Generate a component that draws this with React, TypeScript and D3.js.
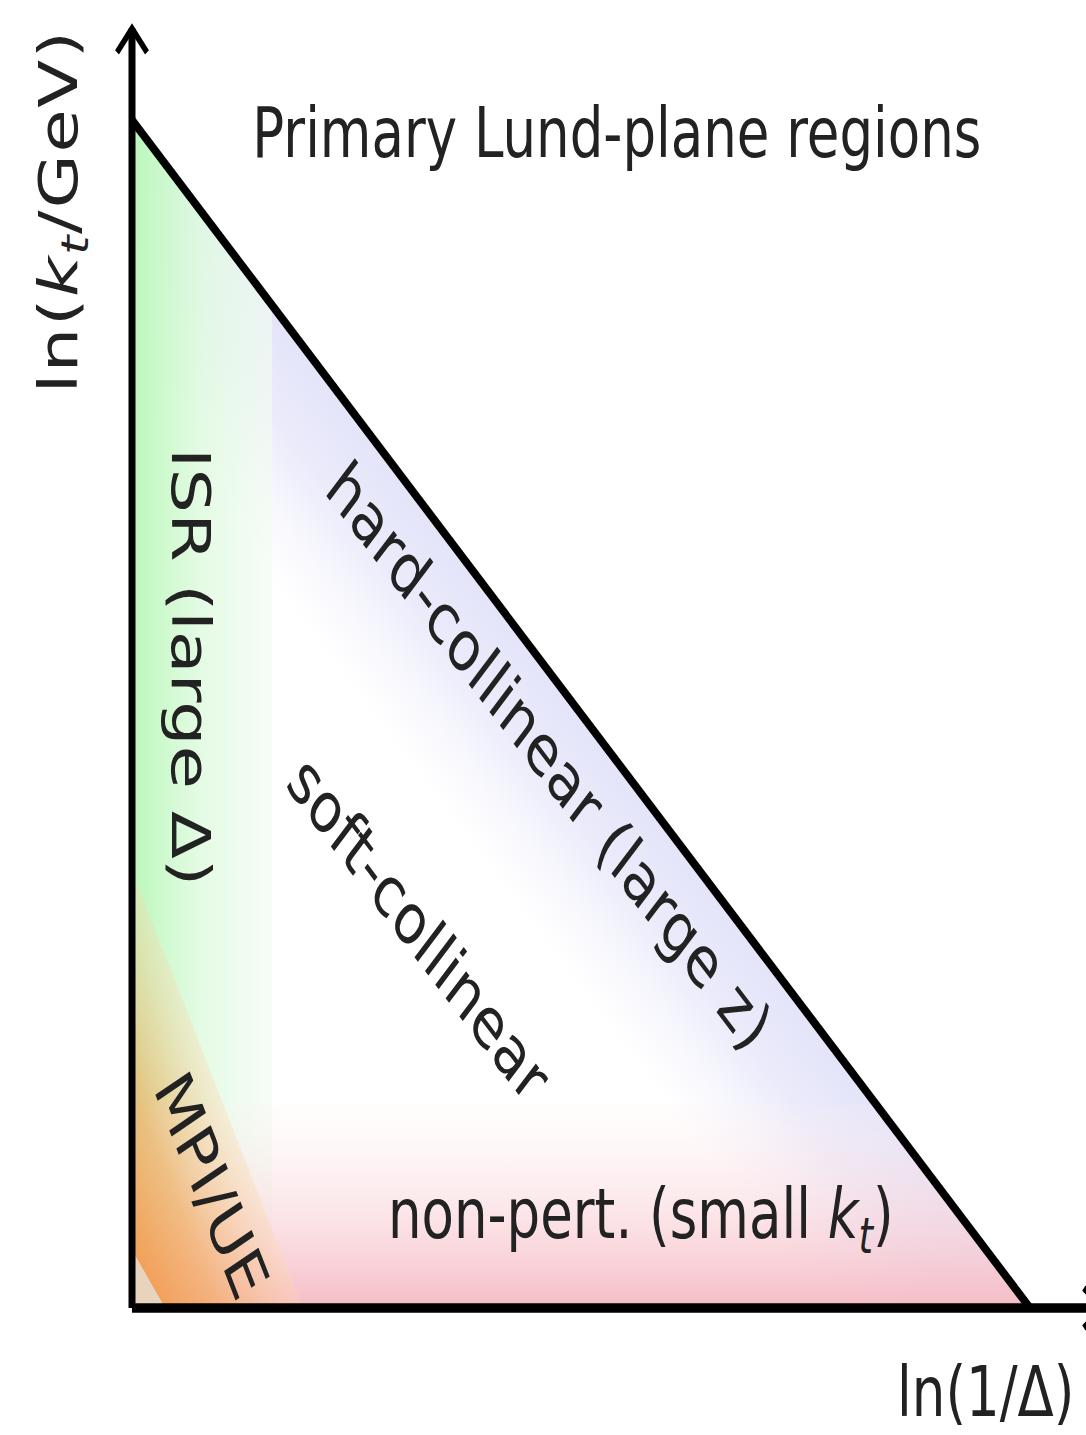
import React from 'react';
import * as d3 from 'd3';

// ---------- data (normalised Lund-plane coordinates) ----------
const lundTriangle: [number, number][] = [[0, 0], [0, 1], [1, 0]];
const isrStripX: [number, number] = [0, 0.156];
const nonPertBandY: [number, number] = [0, 0.171];
const hardCollinearWidth = 0.234;
const mpiRegion: [number, number][] = [[0, 0], [0, 0.369], [0.19, 0]];
const mpiCorner: [number, number][] = [[0, 0], [0, 0.049], [0.037, 0]];
const yAxisTip = 1.077;
const xAxisTip = 1.08;

const regionLabels = ['hard-collinear (large z)', 'soft-collinear', 'ISR (large Δ)', 'MPI/UE'];
const regionLabelX = [0.45, 0.305, 0.0445, 0.0703];
const regionLabelY = [0.45, 0.305, 0.5395, 0.0938];
const regionLabelAngle = [45, 45, 90, 62.7];

const titleText = 'Primary Lund-plane regions';

// ---------- layout ----------
const W = 1086;
const H = 1435;
const SY = 1188 / 898; // vertical stretch of the picture
const FS = 53;
const FONT = '"DejaVu Sans", Verdana, sans-serif';

export default function App() {
  const x = d3.scaleLinear().domain([0, 1]).range([132, 1030]);
  const y = d3.scaleLinear().domain([0, 1]).range([1308 / SY, 120 / SY]);
  const line = d3
    .line<[number, number]>()
    .x((d) => x(d[0]))
    .y((d) => y(d[1]));

  const triPath = line(lundTriangle) + 'Z';
  const w = hardCollinearWidth;
  const hcBand: [number, number][] = [[0, 1], [1, 0], [1 - w, 0], [0, 1 - w]];
  const isrRect: [number, number][] = [
    [isrStripX[0], 0], [isrStripX[0], 1], [isrStripX[1], 1], [isrStripX[1], 0],
  ];
  const npRect: [number, number][] = [
    [0, nonPertBandY[0]], [0, nonPertBandY[1]], [1, nonPertBandY[1]], [1, nonPertBandY[0]],
  ];

  // MPI gradient: from corner perpendicular to hypotenuse
  const hx0 = x(mpiRegion[1][0]), hy0 = y(mpiRegion[1][1]);
  const hx1 = x(mpiRegion[2][0]), hy1 = y(mpiRegion[2][1]);
  const ox = x(0), oy = y(0);
  const dx = hx1 - hx0, dy = hy1 - hy0;
  const len = Math.hypot(dx, dy);
  const ux = dx / len, uy = dy / len;
  const t = (ox - hx0) * ux + (oy - hy0) * uy;
  const fx = hx0 + t * ux, fy = hy0 + t * uy;

  const sub = Math.round(FS * 0.7);
  const subDy = 11;

  return (
    <svg
      width={W}
      height={H}
      style={{ position: 'absolute', left: 0, top: 0, background: '#fff' }}
      fontFamily={FONT}
    >
      <rect width={W} height={H} fill="#fff" />
      <g transform={`scale(1, ${SY})`}>
        <defs>
          <clipPath id="tri">
            <path d={triPath} />
          </clipPath>
          <linearGradient
            id="gBlue"
            gradientUnits="userSpaceOnUse"
            x1={x(0.5)}
            y1={y(0.5)}
            x2={x(0.5 - w / 2)}
            y2={y(0.5 - w / 2)}
          >
            <stop offset="0" stopColor="rgb(228,228,250)" stopOpacity={1} />
            <stop offset="0.4" stopColor="rgb(230,230,250)" stopOpacity={0.8} />
            <stop offset="1" stopColor="rgb(240,240,252)" stopOpacity={0} />
          </linearGradient>
          <linearGradient
            id="gGreen"
            gradientUnits="userSpaceOnUse"
            x1={x(isrStripX[0])}
            y1={0}
            x2={x(isrStripX[1])}
            y2={0}
          >
            <stop offset="0" stopColor="rgb(186,248,186)" stopOpacity={1} />
            <stop offset="0.5" stopColor="rgb(224,250,224)" stopOpacity={0.85} />
            <stop offset="1" stopColor="rgb(242,252,242)" stopOpacity={0.65} />
          </linearGradient>
          <linearGradient
            id="gRed"
            gradientUnits="userSpaceOnUse"
            x1={0}
            y1={y(nonPertBandY[1])}
            x2={0}
            y2={y(nonPertBandY[0])}
          >
            <stop offset="0" stopColor="rgb(255,240,240)" stopOpacity={0.15} />
            <stop offset="1" stopColor="rgb(245,188,198)" stopOpacity={1} />
          </linearGradient>
          <linearGradient
            id="gOrange"
            gradientUnits="userSpaceOnUse"
            x1={ox}
            y1={oy}
            x2={fx}
            y2={fy}
          >
            <stop offset="0" stopColor="rgb(240,145,55)" stopOpacity={0.9} />
            <stop offset="0.5" stopColor="rgb(244,170,95)" stopOpacity={0.7} />
            <stop offset="1" stopColor="rgb(252,215,175)" stopOpacity={0.35} />
          </linearGradient>
        </defs>

        <g clipPath="url(#tri)">
          <path d={line(hcBand) + 'Z'} fill="url(#gBlue)" />
          <path d={line(isrRect) + 'Z'} fill="url(#gGreen)" />
          <path d={line(npRect) + 'Z'} fill="url(#gRed)" />
          <path d={line(mpiRegion) + 'Z'} fill="url(#gOrange)" />
          <path d={line(mpiCorner) + 'Z'} fill="rgb(232,212,190)" />
        </g>

        {/* diagonal boundary */}
        <path d={line([lundTriangle[1], lundTriangle[2]])!} stroke="#000" strokeWidth={7} fill="none" />
        {/* axes */}
        <path d={line([[0, 0], [0, yAxisTip]])!} stroke="#000" strokeWidth={7} fill="none" />
        <path d={line([[0, 0], [xAxisTip, 0]])!} stroke="#000" strokeWidth={7} fill="none" />
        <path
          d={`M${x(0) - 15},${y(yAxisTip) + 18}L${x(0)},${y(yAxisTip)}L${x(0) + 15},${y(yAxisTip) + 18}`}
          stroke="#000"
          strokeWidth={5}
          fill="none"
        />
        <path
          d={`M${x(xAxisTip) - 18},${y(0) - 15}L${x(xAxisTip)},${y(0)}L${x(xAxisTip) - 18},${y(0) + 15}`}
          stroke="#000"
          strokeWidth={5}
          fill="none"
        />

        {/* title */}
        <text x={x(0.134)} y={y(0.969)} fontSize={FS} fill="#222">
          {titleText}
        </text>

        {/* region labels */}
        {regionLabels.map((s, i) => (
          <text
            key={s}
            transform={`translate(${x(regionLabelX[i])},${y(regionLabelY[i])}) rotate(${regionLabelAngle[i]})`}
            textAnchor="middle"
            fontSize={FS}
            fill="#222"
          >
            {s}
          </text>
        ))}

        {/* non-perturbative label */}
        <text x={x(0.285)} y={y(0.0589)} fontSize={FS} fill="#222">
          non-pert. (small{' '}
          <tspan fontStyle="italic">k</tspan>
          <tspan fontStyle="italic" fontSize={sub} dy={subDy}>t</tspan>
          <tspan dy={-subDy}>)</tspan>
        </text>

        {/* axis labels */}
        <text
          transform={`translate(${x(-0.0612)},${y(0.9225)}) rotate(-90)`}
          textAnchor="middle"
          fontSize={FS}
          fill="#222"
          textLength={274}
          lengthAdjust="spacing"
        >
          ln(
          <tspan fontStyle="italic">k</tspan>
          <tspan fontStyle="italic" fontSize={sub} dy={subDy}>t</tspan>
          <tspan dy={-subDy}>/GeV)</tspan>
        </text>
        <text x={x(0.852)} y={y(-0.0905)} fontSize={FS} fill="#222">
          ln(1/Δ)
        </text>
      </g>
    </svg>
  );
}
